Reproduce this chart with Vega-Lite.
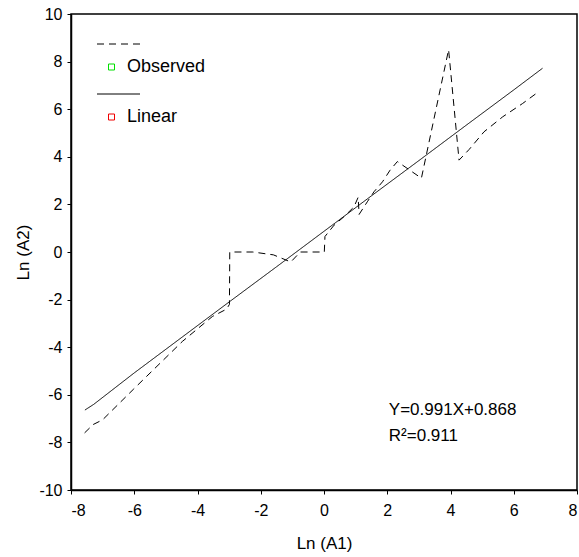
{
  "$schema": "https://vega.github.io/schema/vega-lite/v6.json",
  "width": 506,
  "height": 476,
  "autosize": {"type": "none"},
  "padding": {"left": 71, "top": 14, "right": 2, "bottom": 67},
  "background": "white",
  "config": {
    "font": "Liberation Sans",
    "view": {"stroke": "black", "strokeWidth": 1.5},
    "axis": {
      "grid": false,
      "domainColor": "black",
      "domainWidth": 1.5,
      "tickColor": "black",
      "tickWidth": 1,
      "tickSize": 4,
      "labelColor": "black",
      "labelFont": "Liberation Sans",
      "labelFontSize": 16,
      "titleColor": "black",
      "titleFont": "Liberation Sans",
      "titleFontSize": 17,
      "titleFontWeight": "normal"
    }
  },
  "data": {
    "values": [
      {"series": "Observed", "x": -7.57, "y": -7.6},
      {"series": "Observed", "x": -7.3, "y": -7.25},
      {"series": "Observed", "x": -7.0, "y": -7.05},
      {"series": "Observed", "x": -6.02, "y": -5.76},
      {"series": "Observed", "x": -4.48, "y": -3.76},
      {"series": "Observed", "x": -3.53, "y": -2.71},
      {"series": "Observed", "x": -3.08, "y": -2.4},
      {"series": "Observed", "x": -2.99, "y": -2.2},
      {"series": "Observed", "x": -2.98, "y": 0.0},
      {"series": "Observed", "x": -2.25, "y": 0.0},
      {"series": "Observed", "x": -1.6, "y": -0.12},
      {"series": "Observed", "x": -1.05, "y": -0.42},
      {"series": "Observed", "x": -0.75, "y": 0.0},
      {"series": "Observed", "x": 0.01, "y": 0.0},
      {"series": "Observed", "x": 0.03, "y": 0.65},
      {"series": "Observed", "x": 0.32, "y": 1.13},
      {"series": "Observed", "x": 0.63, "y": 1.48},
      {"series": "Observed", "x": 0.95, "y": 1.9},
      {"series": "Observed", "x": 1.08, "y": 2.3},
      {"series": "Observed", "x": 1.11, "y": 1.58},
      {"series": "Observed", "x": 1.37, "y": 2.11},
      {"series": "Observed", "x": 1.58, "y": 2.53},
      {"series": "Observed", "x": 1.85, "y": 2.95},
      {"series": "Observed", "x": 2.09, "y": 3.44},
      {"series": "Observed", "x": 2.32, "y": 3.8},
      {"series": "Observed", "x": 3.08, "y": 3.1},
      {"series": "Observed", "x": 3.94, "y": 8.5},
      {"series": "Observed", "x": 4.27, "y": 3.86},
      {"series": "Observed", "x": 4.59, "y": 4.31},
      {"series": "Observed", "x": 5.06, "y": 5.05},
      {"series": "Observed", "x": 5.65, "y": 5.68},
      {"series": "Observed", "x": 6.28, "y": 6.24},
      {"series": "Observed", "x": 6.73, "y": 6.68},
      {"series": "Linear", "x": -7.56, "y": -6.64},
      {"series": "Linear", "x": -7.28, "y": -6.4},
      {"series": "Linear", "x": -6.0, "y": -5.08},
      {"series": "Linear", "x": -4.5, "y": -3.59},
      {"series": "Linear", "x": -3.0, "y": -2.1},
      {"series": "Linear", "x": -1.5, "y": -0.62},
      {"series": "Linear", "x": 0.0, "y": 0.87},
      {"series": "Linear", "x": 1.5, "y": 2.36},
      {"series": "Linear", "x": 3.0, "y": 3.84},
      {"series": "Linear", "x": 4.5, "y": 5.33},
      {"series": "Linear", "x": 6.0, "y": 6.81},
      {"series": "Linear", "x": 6.91, "y": 7.72}
    ]
  },
  "layer": [
    {
      "mark": {"type": "line", "color": "black", "strokeWidth": 1},
      "encoding": {
        "x": {
          "field": "x", "type": "quantitative",
          "scale": {"domain": [-8, 8], "nice": false, "zero": false},
          "axis": {"values": [-8, -6, -4, -2, 0, 2, 4, 6, 8], "labelExpr": "'' + datum.value", "title": "Ln (A1)", "labelPadding": 8, "titlePadding": 17}
        },
        "y": {
          "field": "y", "type": "quantitative",
          "scale": {"domain": [-10, 10], "nice": false, "zero": false},
          "axis": {"values": [-10, -8, -6, -4, -2, 0, 2, 4, 6, 8, 10], "labelExpr": "'' + datum.value", "title": "Ln (A2)", "labelPadding": 5, "titlePadding": 6}
        },
        "strokeDash": {
          "field": "series", "type": "nominal",
          "scale": {"domain": ["Observed", "Linear"], "range": [[7, 5], [1, 0]]},
          "legend": {
            "orient": "top-left",
            "offset": 8,
            "title": null,
            "symbolType": "stroke",
            "symbolSize": 1849,
            "symbolOffset": 17.5,
            "symbolStrokeColor": "black",
            "symbolStrokeWidth": 1,
            "rowPadding": 23,
            "labelExpr": "''",
            "padding": 0
          }
        }
      }
    },
    {
      "mark": {"type": "point", "shape": "square", "filled": false, "opacity": 0, "size": 0},
      "encoding": {
        "x": {"field": "x", "type": "quantitative"},
        "y": {"field": "y", "type": "quantitative"},
        "color": {
          "field": "series", "type": "nominal",
          "scale": {"domain": ["Observed", "Linear"], "range": ["#00e000", "#f00000"]},
          "legend": {
            "orient": "none",
            "legendX": 31.5,
            "legendY": 44,
            "title": null,
            "symbolType": "square",
            "symbolSize": 36,
            "symbolStrokeWidth": 1,
            "symbolOpacity": 1,
            "symbolFillColor": "white",
            "labelFont": "Liberation Sans",
            "labelFontSize": 18,
            "labelColor": "black",
            "labelOffset": 6.5,
            "rowPadding": 32,
            "padding": 0
          }
        }
      }
    },
    {
      "data": {"values": [{}]},
      "mark": {"type": "text", "align": "left", "baseline": "middle", "font": "Liberation Sans", "fontSize": 17, "color": "black"},
      "encoding": {
        "x": {"datum": 2.05, "type": "quantitative"},
        "y": {"datum": -6.63, "type": "quantitative"},
        "text": {"value": "Y=0.991X+0.868"}
      }
    },
    {
      "data": {"values": [{}]},
      "mark": {"type": "text", "align": "left", "baseline": "middle", "font": "Liberation Sans", "fontSize": 17, "color": "black"},
      "encoding": {
        "x": {"datum": 2.05, "type": "quantitative"},
        "y": {"datum": -7.72, "type": "quantitative"},
        "text": {"value": "R²=0.911"}
      }
    }
  ]
}
